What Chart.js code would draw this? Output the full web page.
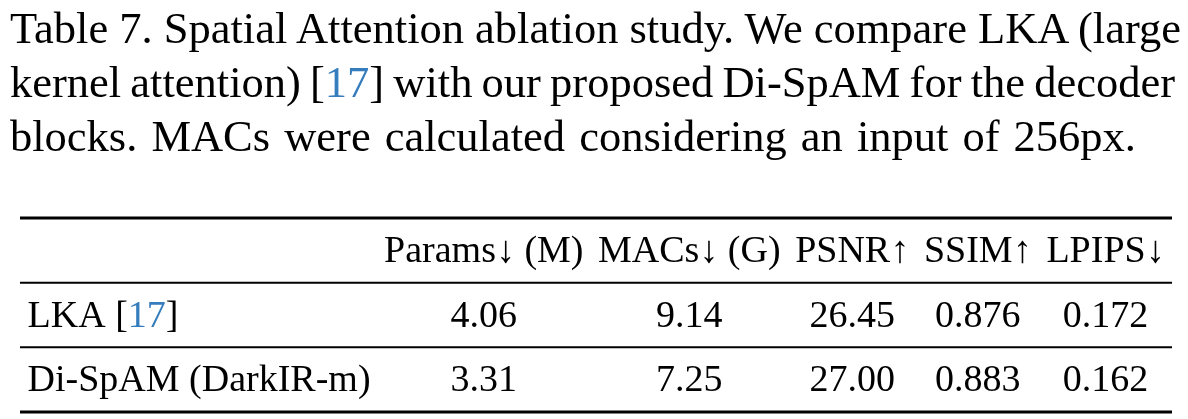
<!DOCTYPE html>
<html>
<head>
<meta charset="utf-8">
<script src="https://cdn.jsdelivr.net/npm/chart.js@4.4.1/dist/chart.umd.min.js"></script>
<style>
  html, body { margin: 0; padding: 0; background: #ffffff; }
  #wrap { position: relative; width: 1188px; height: 419px; overflow: hidden; background: #fff; }
  #caption { position: absolute; left: 10px; top: 1px; font-family: "Liberation Serif", "Times New Roman", serif;
             font-size: 44.5px; line-height: 54px; color: #000; z-index: 2; }
  #caption div { white-space: nowrap; }
  #caption span.line { display: inline-block; }
  .ref { color: #367dbd; }
  #tbl { position: absolute; left: 0; top: 0; }
</style>
</head>
<body>
<div id="wrap">
  <div id="caption">
    <div><span class="line" data-w="1171">Table 7. Spatial Attention ablation study. We compare LKA (large</span></div>
    <div><span class="line" data-w="1165">kernel attention) [<span class="ref">17</span>] with our proposed Di-SpAM for the decoder</span></div>
    <div><span class="line" data-w="1126">blocks. MACs were calculated considering an input of 256px.</span></div>
  </div>
  <canvas id="tbl" width="1188" height="419"></canvas>
</div>
<script>
// ---- data ----
const columns = ['Params\u2193 (M)', 'MACs\u2193 (G)', 'PSNR\u2191', 'SSIM\u2191', 'LPIPS\u2193'];
const methods = ['LKA', 'Di-SpAM (DarkIR-m)'];
const methodRefs = ['17', ''];
const params = [4.06, 3.31];
const macs = [9.14, 7.25];
const psnr = [26.45, 27.00];
const ssim = [0.876, 0.883];
const lpips = [0.172, 0.162];
const decimals = [2, 2, 2, 3, 3];

// ---- caption line fitting (justified like the typeset caption) ----
document.querySelectorAll('#caption span.line').forEach(el => {
  const target = parseFloat(el.dataset.w);
  const spaces = (el.textContent.match(/ /g) || []).length;
  const natural = el.getBoundingClientRect().width;
  if (spaces > 0) el.style.wordSpacing = ((target - natural) / spaces) + 'px';
});

// ---- layout / style ----
const FONT = '38px "Liberation Serif", "Times New Roman", serif';
const EM = 38;
const PAD = 0.2 * EM;
const REF_COLOR = '#367dbd';

const series = [params, macs, psnr, ssim, lpips];

function labelText(i) { return methods[i] + (methodRefs[i] ? ' [' + methodRefs[i] + ']' : ''); }

// measure column widths (like a table layout engine)
const mctx = document.createElement('canvas').getContext('2d');
mctx.font = FONT;
const labelW = Math.max(...methods.map((m, i) => mctx.measureText(labelText(i)).width));
const colW = columns.map((c, j) => Math.max(mctx.measureText(c).width,
  ...series[j].map(v => mctx.measureText(v.toFixed(decimals[j])).width)));
let cursor = 0;
const labelX = cursor + PAD;
cursor += labelW + 2 * PAD;
const colCenters = colW.map(w => { const c = cursor + PAD + w / 2; cursor += w + 2 * PAD; return c; });
const tableW = cursor;

const rowLabels = [''].concat(methods);

const datasets = series.map((vals, j) => ({
  label: columns[j],
  data: vals.map((v, i) => ({ x: colCenters[j], y: methods[i], v: v })),
  pointRadius: 0,
  showLine: false
}));

const tablePlugin = {
  id: 'tablePlugin',
  afterDraw(chart) {
    const ctx = chart.ctx;
    const xs = chart.scales.x, ys = chart.scales.y;
    const area = chart.chartArea;
    const off = 0.31 * EM;
    ctx.save();
    ctx.font = FONT;
    ctx.fillStyle = '#000';
    ctx.textBaseline = 'alphabetic';
    // header
    ctx.textAlign = 'center';
    columns.forEach((c, j) => ctx.fillText(c, xs.getPixelForValue(colCenters[j]), ys.getPixelForValue(0) + off));
    // cell values
    chart.data.datasets.forEach((ds, j) => {
      const meta = chart.getDatasetMeta(j);
      meta.data.forEach((el, i) => {
        ctx.fillText(ds.data[i].v.toFixed(decimals[j]), el.x, el.y + off);
      });
    });
    // row labels
    ctx.textAlign = 'left';
    methods.forEach((m, i) => {
      let x = xs.getPixelForValue(labelX);
      const y = ys.getPixelForValue(i + 1) + off;
      ctx.fillStyle = '#000';
      ctx.fillText(m, x, y);
      x += ctx.measureText(m).width;
      if (methodRefs[i]) {
        ctx.fillText(' [', x, y); x += ctx.measureText(' [').width;
        ctx.fillStyle = REF_COLOR;
        ctx.fillText(methodRefs[i], x, y); x += ctx.measureText(methodRefs[i]).width;
        ctx.fillStyle = '#000';
        ctx.fillText(']', x, y);
      }
    });
    // rules (booktabs style)
    const n = ys.getLabels().length;
    const rules = [{ y: area.top, w: 3 }];
    for (let i = 0; i < n - 1; i++) {
      rules.push({ y: (ys.getPixelForValue(i) + ys.getPixelForValue(i + 1)) / 2, w: 2 });
    }
    rules.push({ y: area.bottom, w: 3 });
    ctx.strokeStyle = '#000';
    rules.forEach(r => {
      ctx.lineWidth = r.w;
      ctx.beginPath();
      ctx.moveTo(area.left, r.y);
      ctx.lineTo(area.right, r.y);
      ctx.stroke();
    });
    ctx.restore();
  }
};

new Chart(document.getElementById('tbl'), {
  type: 'scatter',
  data: { datasets: datasets },
  options: {
    responsive: false,
    animation: false,
    devicePixelRatio: 1,
    layout: { padding: { left: 20, right: 16, top: 218, bottom: 7 } },
    plugins: { legend: { display: false }, tooltip: { enabled: false }, title: { display: false } },
    scales: {
      x: { type: 'linear', min: 0, max: tableW, display: false },
      y: { type: 'category', labels: rowLabels, offset: true, display: false }
    }
  },
  plugins: [tablePlugin]
});
</script>
</body>
</html>
